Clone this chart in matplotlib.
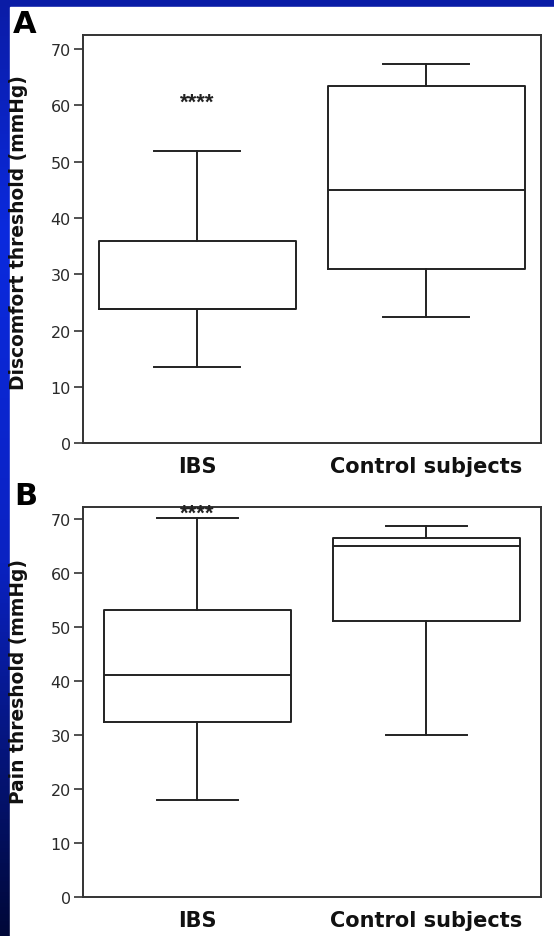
import numpy as np
import matplotlib
matplotlib.use("Agg")
import matplotlib.pyplot as plt
from matplotlib.colors import LinearSegmentedColormap
from matplotlib.patches import Rectangle

plt.rcParams['font.family'] = ['DejaVu Sans']

groups = ['IBS', 'Control subjects']

# panel A: discomfort threshold (mmHg) - whislo, q1, med, q3, whishi
disc_ibs = [13.55, 23.9, 23.9, 35.9, 51.9]
disc_ctrl = [22.4, 31.0, 45.0, 63.4, 67.4]

# panel B: pain threshold (mmHg)
pain_ibs = [18.1, 32.5, 41.2, 53.3, 70.2]
pain_ctrl = [30.05, 51.1, 65.05, 66.5, 68.8]

yticks = [0, 10, 20, 30, 40, 50, 60, 70]
sig_disc = 60.6
sig_pain = 71.2

W, H = 554, 937
fig = plt.figure(figsize=(W / 100, H / 100), dpi=100)

# slide background: blue gradient strip on the left and top
bg = fig.add_axes([0, 0, 1, 1])
bg.set_axis_off()
cmap = LinearSegmentedColormap.from_list(
    'slide', [(0, '#0a1ca6'), (0.25, '#0a2ade'), (0.6, '#0a22c2'), (1, '#000838')])
grad = np.linspace(0, 1, 256).reshape(-1, 1)
bg.imshow(grad, aspect='auto', cmap=cmap, extent=[0, 1, 0, 1], origin='upper')
bg.add_patch(Rectangle((9.5 / W, 0), 1, 1 - 7.5 / H, color='white', zorder=2))
bg.set_xlim(0, 1)
bg.set_ylim(0, 1)


def stats(v, label):
    return dict(whislo=v[0], q1=v[1], med=v[2], q3=v[3], whishi=v[4], label=label)


def panel(rect, data, ylabel, ylab_y, top, width, capw, sig_y):
    ax = fig.add_axes(rect)
    lw = 1.4
    col = '#222222'
    ax.bxp([stats(data[0], groups[0]), stats(data[1], groups[1])],
           positions=[1, 2], widths=width, capwidths=capw, showfliers=False,
           boxprops=dict(color=col, linewidth=lw),
           whiskerprops=dict(color=col, linewidth=lw),
           capprops=dict(color=col, linewidth=lw),
           medianprops=dict(color=col, linewidth=lw))
    ax.set_xlim(0.5, 2.5)
    ax.set_ylim(0, top)
    ax.set_yticks(yticks)
    ax.tick_params(axis='y', length=6.5, width=1.2, color='#333333',
                   labelsize=11.5, labelcolor='#2a2a2a', pad=2)
    ax.tick_params(axis='x', length=0, pad=9)
    for lab in ax.get_xticklabels():
        lab.set_fontsize(15)
        lab.set_fontweight('bold')
        lab.set_color('#111111')
    for s in ax.spines.values():
        s.set_linewidth(1.4)
        s.set_color('#333333')
    ax.text(1, sig_y, '****', ha='center', va='center', fontsize=16,
            family='Liberation Sans', fontweight='bold', color='#222222')
    fig.text(18.5 / W, ylab_y, ylabel, rotation=90, ha='center', va='center',
             fontsize=13.4, fontweight='bold', color='#111111')
    return ax


panel([82.7 / W, 1 - 444.3 / H, 458.3 / W, 408.3 / H],
      [disc_ibs, disc_ctrl], 'Discomfort threshold (mmHg)', 1 - 233 / H,
      72.5, 0.862, 0.375, sig_disc)
panel([82.7 / W, 1 - 898.3 / H, 458.3 / W, 390.3 / H],
      [pain_ibs, pain_ctrl], 'Pain threshold (mmHg)', 1 - 682 / H,
      72.3, 0.816, 0.355, sig_pain)

fig.text(13 / W, 1 - 10 / H, 'A', ha='left', va='top', fontsize=22,
         fontweight='bold', color='black')
fig.text(14 / W, 1 - 482 / H, 'B', ha='left', va='top', fontsize=22,
         fontweight='bold', color='black')

fig.savefig('out.png', dpi=100)
